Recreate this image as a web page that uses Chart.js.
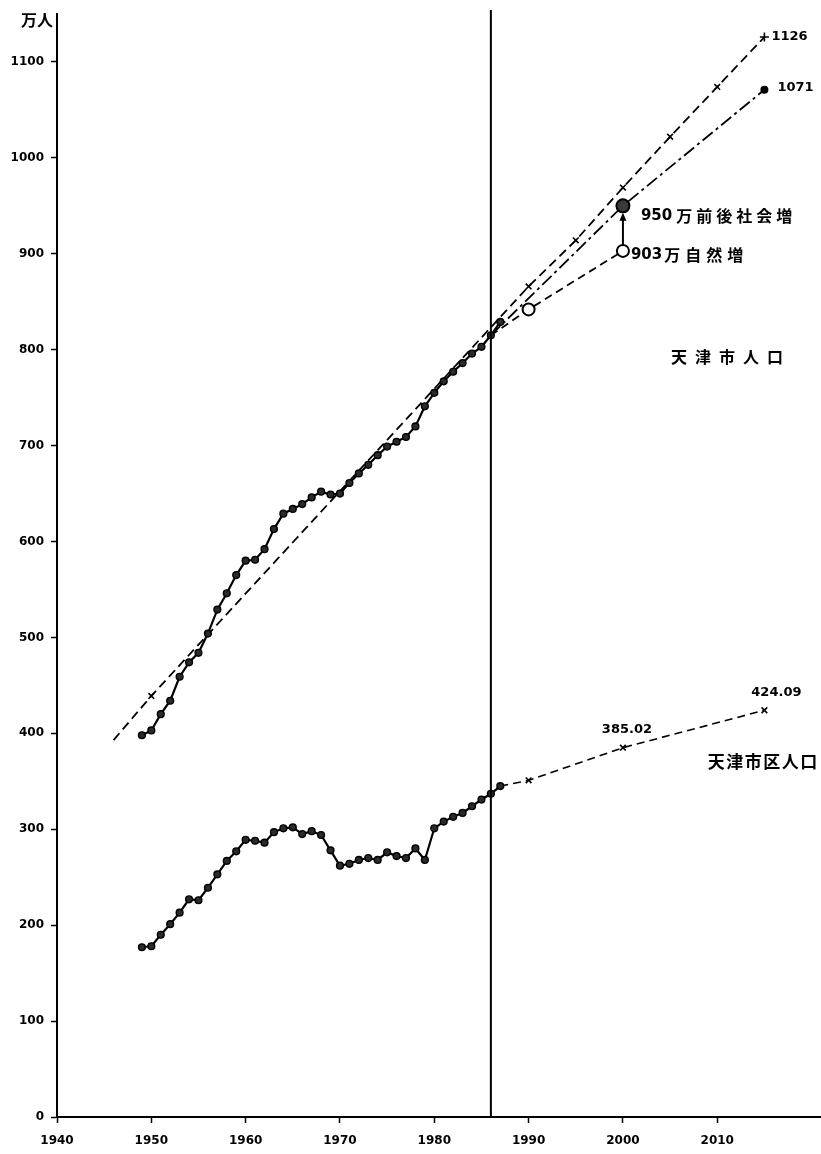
<!DOCTYPE html>
<html>
<head>
<meta charset="utf-8">
<script src="https://cdn.jsdelivr.net/npm/chart.js@4/dist/chart.umd.min.js"></script>
<style>
  html, body { margin: 0; padding: 0; background: #fff; }
  #wrap { width: 821px; height: 1154px; }
</style>
</head>
<body>
<div id="wrap"><canvas id="c" width="821" height="1154"></canvas></div>
<script>
// Observed population of Tianjin (万人), 1949–1987
const years = [1949,1950,1951,1952,1953,1954,1955,1956,1957,1958,1959,1960,1961,1962,1963,
  1964,1965,1966,1967,1968,1969,1970,1971,1972,1973,1974,1975,1976,1977,1978,1979,1980,
  1981,1982,1983,1984,1985,1986,1987];
const cityPop = [398,403,420,434,459,474,484,504,529,546,565,580,581,592,613,629,634,639,
  646,652,649,650,661,671,680,690,699,704,709,720,741,755,767,777,786,796,803,815,829];
const districtPop = [177,178,190,201,213,227,226,239,253,267,277,289,288,286,297,301,302,
  295,298,294,278,262,264,268,270,268,276,272,270,280,268,301,308,313,317,324,331,337,345];

// Linear trend of the whole city, extended to 2015
const trendYears = [1946,1950,1990,1995,2000,2005,2010,2015];
const trendPop = [393,439,866,914,969,1022,1074,1126];

// Projection including migration (社会増)
const socialYears = [1986,2000,2015];
const socialPop = [815,950,1071];

// Projection with natural growth only (自然増)
const naturalYears = [1986,1990,2000];
const naturalPop = [815,842,903];

// Projection of the urban districts
const districtProjYears = [1987,1990,2000,2015];
const districtProjPop = [345,351,385.02,424.09];

const xTicks = [1940,1950,1960,1970,1980,1990,2000,2010];
const yTicks = [0,100,200,300,400,500,600,700,800,900,1000,1100];
const baseYear = 1986;

const pts = (xs, ys) => xs.map((x, i) => ({ x: x, y: ys[i] }));

const NUM_FONT = 'bold 13px "DejaVu Sans"';
const CJK = '"Noto Sans CJK JP"';

function spaced(ctx, text, x, y, extra) {
  let cx = x;
  for (const ch of text) {
    ctx.fillText(ch, cx, y);
    cx += ctx.measureText(ch).width + extra;
  }
}

const notes = {
  id: 'notes',
  afterDatasetsDraw(chart) {
    const { ctx, chartArea, scales: { x, y } } = chart;
    ctx.save();
    ctx.fillStyle = '#000';
    ctx.strokeStyle = '#000';

    // boundary between observed and projected years
    const bx = x.getPixelForValue(baseYear);
    ctx.lineWidth = 2;
    ctx.beginPath();
    ctx.moveTo(bx, chartArea.top - 4);
    ctx.lineTo(bx, chartArea.bottom);
    ctx.stroke();

    // unit
    ctx.font = 'bold 16px ' + CJK;
    ctx.textAlign = 'right';
    ctx.textBaseline = 'middle';
    ctx.fillText('万人', chartArea.left - 4, chartArea.top + 6);

    // arrow from natural growth to migration estimate
    const ax = x.getPixelForValue(2000);
    const y0 = y.getPixelForValue(naturalPop[2]) - 6;
    const y1 = y.getPixelForValue(socialPop[1]) + 7;
    ctx.lineWidth = 2;
    ctx.beginPath();
    ctx.moveTo(ax, y0);
    ctx.lineTo(ax, y1 + 5);
    ctx.stroke();
    ctx.beginPath();
    ctx.moveTo(ax, y1);
    ctx.lineTo(ax - 3.5, y1 + 8);
    ctx.lineTo(ax + 3.5, y1 + 8);
    ctx.closePath();
    ctx.fill();

    ctx.textAlign = 'left';
    // end values of the city lines
    ctx.font = NUM_FONT;
    const tx = x.getPixelForValue(trendYears[trendYears.length - 1]);
    const ty = y.getPixelForValue(trendPop[trendPop.length - 1]);
    ctx.fillText(String(trendPop[trendPop.length - 1]), tx + 7, ty);
    const sx = x.getPixelForValue(socialYears[2]);
    const sy = y.getPixelForValue(socialPop[2]);
    ctx.fillText(String(socialPop[2]), sx + 13, sy - 2);

    // 2000 estimates
    const mx = x.getPixelForValue(socialYears[1]);
    const my = y.getPixelForValue(socialPop[1]);
    ctx.font = 'bold 15px "DejaVu Sans"';
    ctx.fillText(String(socialPop[1]), mx + 18, my + 10);
    let w = ctx.measureText(String(socialPop[1])).width;
    ctx.font = 'bold 16px ' + CJK;
    spaced(ctx, '万前後社会増', mx + 18 + w + 4, my + 10, 4);

    const nx = x.getPixelForValue(naturalYears[2]);
    const ny = y.getPixelForValue(naturalPop[2]);
    ctx.font = 'bold 15px "DejaVu Sans"';
    ctx.fillText(String(naturalPop[2]), nx + 8, ny + 4);
    w = ctx.measureText(String(naturalPop[2])).width;
    ctx.font = 'bold 16px ' + CJK;
    spaced(ctx, '万自然増', nx + 8 + w + 2, ny + 4, 5);

    // urban district projection values
    ctx.font = NUM_FONT;
    ctx.textAlign = 'center';
    for (let i = 2; i < districtProjYears.length; i++) {
      const px = x.getPixelForValue(districtProjYears[i]);
      const py = y.getPixelForValue(districtProjPop[i]);
      ctx.fillText(districtProjPop[i].toFixed(2), px + (i === 3 ? 12 : 4), py - 18);
    }

    // series names
    ctx.textAlign = 'left';
    ctx.font = 'bold 16px ' + CJK;
    spaced(ctx, '天津市人口', x.getPixelForValue(2005.1), y.getPixelForValue(792), 8);
    ctx.font = 'bold 17px ' + CJK;
    spaced(ctx, '天津市区人口', x.getPixelForValue(2009), y.getPixelForValue(371), 1.5);

    ctx.restore();
  }
};

const histStyle = {
  borderColor: '#000',
  borderWidth: 2.2,
  pointRadius: 3.4,
  pointBorderWidth: 1.4,
  pointBackgroundColor: '#2a2a2a',
  pointBorderColor: '#000',
  tension: 0
};

new Chart(document.getElementById('c'), {
  type: 'line',
  data: {
    datasets: [
      Object.assign({ label: '天津市人口', data: pts(years, cityPop) }, histStyle),
      Object.assign({ label: '天津市区人口', data: pts(years, districtPop) }, histStyle),
      {
        label: 'trend',
        data: pts(trendYears, trendPop),
        borderColor: '#000',
        borderWidth: 1.8,
        borderDash: [9, 5],
        pointStyle: ['crossRot','crossRot','crossRot','crossRot','crossRot','crossRot','crossRot','cross'],
        pointRadius: [0, 4, 4, 4, 4, 4, 4, 4.5],
        pointBorderWidth: 1.6,
        pointBorderColor: '#000'
      },
      {
        label: '社会増',
        data: pts(socialYears, socialPop),
        borderColor: '#000',
        borderWidth: 1.8,
        borderDash: [13, 4, 3, 4],
        pointStyle: 'circle',
        pointRadius: [0, 6.5, 3],
        pointBorderWidth: 2,
        pointBackgroundColor: ['#000', '#3a3a3a', '#000'],
        pointBorderColor: '#000'
      },
      {
        label: '自然増',
        data: pts(naturalYears, naturalPop),
        borderColor: '#000',
        borderWidth: 1.8,
        borderDash: [8, 5],
        pointStyle: 'circle',
        pointRadius: [0, 6, 6],
        pointBorderWidth: 2,
        pointBackgroundColor: '#fff',
        pointBorderColor: '#000'
      },
      {
        label: '市区 projection',
        data: pts(districtProjYears, districtProjPop),
        borderColor: '#000',
        borderWidth: 1.6,
        borderDash: [8, 5],
        pointStyle: 'crossRot',
        pointRadius: [0, 4, 4, 4],
        pointBorderWidth: 1.6,
        pointBorderColor: '#000'
      }
    ]
  },
  options: {
    responsive: false,
    animation: false,
    devicePixelRatio: 1,
    layout: { autoPadding: false, padding: { top: 14, right: 0, left: 0, bottom: 0 } },
    plugins: { legend: { display: false }, tooltip: { enabled: false } },
    scales: {
      x: {
        type: 'linear',
        min: 1940,
        max: 2021,
        afterBuildTicks: a => { a.ticks = xTicks.map(v => ({ value: v })); },
        afterFit: s => { s.height = 37; s.paddingLeft = 0; s.paddingRight = 0; },
        grid: { drawOnChartArea: false, drawTicks: true, tickLength: 6, tickColor: '#000', tickWidth: 1.5 },
        border: { display: true, color: '#000', width: 2 },
        ticks: {
          color: '#000',
          padding: 11,
          maxRotation: 0,
          autoSkip: false,
          font: { family: 'DejaVu Sans', weight: 'bold', size: 12 },
          callback: v => String(v)
        }
      },
      y: {
        type: 'linear',
        min: 0,
        max: 1150,
        afterBuildTicks: a => { a.ticks = yTicks.map(v => ({ value: v })); },
        afterFit: s => { s.width = 57; s.paddingTop = 0; s.paddingBottom = 0; },
        grid: { drawOnChartArea: false, drawTicks: true, tickLength: 6, tickColor: '#000', tickWidth: 1.5 },
        border: { display: true, color: '#000', width: 2 },
        ticks: {
          color: '#000',
          padding: 7,
          autoSkip: false,
          font: { family: 'DejaVu Sans', weight: 'bold', size: 12 },
          callback: v => String(v)
        }
      }
    }
  },
  plugins: [notes]
});
</script>
</body>
</html>
